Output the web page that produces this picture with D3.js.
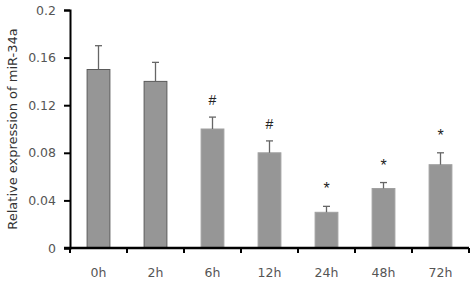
<!DOCTYPE html>
<html>
<head>
<meta charset="utf-8">
<script src="https://cdn.jsdelivr.net/npm/d3@7"></script>
<style>
  body { margin: 0; background: #fff; }
  text { font-family: "DejaVu Sans", sans-serif; }
</style>
</head>
<body>
<div id="chart"></div>
<script>
// data
let hours = ['0h', '2h', '6h', '12h', '24h', '48h', '72h'];
let means = [0.15, 0.14, 0.10, 0.08, 0.03, 0.05, 0.07];
let errs = [0.02, 0.016, 0.01, 0.01, 0.005, 0.005, 0.01];
let marks = ['', '', '#', '#', '*', '*', '*'];
let yTicks = [0, 0.04, 0.08, 0.12, 0.16, 0.2];

let margin = {top: 10, right: 5, bottom: 34, left: 70};
let width = 474 - margin.left - margin.right;
let height = 282 - margin.top - margin.bottom;

let svg = d3.select('#chart')
  .append('svg')
    .attr('width', 474)
    .attr('height', 282)
  .append('g')
    .attr('transform', 'translate(' + margin.left + ',' + margin.top + ')');

let x = d3.scaleBand()
  .domain(hours)
  .range([0, 399])
  .paddingInner(0.6)
  .paddingOuter(0.3);

let y = d3.scaleLinear()
  .domain([0, 0.2])
  .range([height, 0]);

// bars
svg.selectAll('.bar')
  .data(hours)
  .enter()
  .append('rect')
    .attr('x', d => x(d))
    .attr('y', (d, i) => y(means[i]))
    .attr('width', x.bandwidth())
    .attr('height', (d, i) => height - y(means[i]))
    .attr('fill', '#969696')
    .attr('stroke', (d, i) => i < 2 ? '#5a5a5a' : '#a0a0a0')
    .attr('stroke-width', 1);

// error bars (upper only)
let eb = svg.selectAll('.err')
  .data(hours)
  .enter()
  .append('g')
    .attr('stroke', '#666')
    .attr('stroke-width', 1.3);

eb.append('line')
  .attr('x1', d => x(d) + x.bandwidth() / 2)
  .attr('x2', d => x(d) + x.bandwidth() / 2)
  .attr('y1', (d, i) => y(means[i]))
  .attr('y2', (d, i) => y(means[i] + errs[i]));

eb.append('line')
  .attr('x1', d => x(d) + x.bandwidth() / 2 - 3.5)
  .attr('x2', d => x(d) + x.bandwidth() / 2 + 3.5)
  .attr('y1', (d, i) => y(means[i] + errs[i]))
  .attr('y2', (d, i) => y(means[i] + errs[i]));

// significance marks
svg.selectAll('.mark')
  .data(hours)
  .enter()
  .append('text')
    .attr('x', d => x(d) + x.bandwidth() / 2)
    .attr('y', (d, i) => y(means[i] + errs[i]) - (marks[i] == '#' ? 12 : 12))
    .attr('text-anchor', 'middle')
    .style('font-family', '"Liberation Sans", Arial, sans-serif')
    .style('font-size', (d, i) => marks[i] == '#' ? '14px' : '16px')
    .attr('fill', '#222')
    .text((d, i) => marks[i]);

// y axis
let yAxis = svg.append('g')
  .call(d3.axisLeft(y).tickValues(yTicks).tickSize(6).tickPadding(8)
    .tickFormat(d => d3.format('')(+d.toFixed(2))));

yAxis.select('.domain').attr('stroke', '#000').attr('stroke-width', 2);
yAxis.selectAll('.tick line').attr('stroke', '#000').attr('stroke-width', 2);
yAxis.selectAll('.tick text')
  .attr('fill', '#555')
  .style('font-size', '12.5px')
  .style('font-family', '"DejaVu Sans", sans-serif');

// x axis: ticks sit between categories
let xAxis = svg.append('g')
  .attr('transform', 'translate(0,' + height + ')');

xAxis.append('line')
  .attr('x1', -6).attr('x2', 399)
  .attr('stroke', '#000').attr('stroke-width', 2.5);

xAxis.selectAll('.xt')
  .data(d3.range(0, hours.length + 1))
  .enter()
  .append('line')
    .attr('x1', i => i * x.step())
    .attr('x2', i => i * x.step())
    .attr('y1', 0)
    .attr('y2', 5)
    .attr('stroke', '#000')
    .attr('stroke-width', 2);

xAxis.selectAll('.xl')
  .data(hours)
  .enter()
  .append('text')
    .attr('x', d => x(d) + x.bandwidth() / 2)
    .attr('y', 29)
    .attr('text-anchor', 'middle')
    .attr('fill', '#555')
    .style('font-size', '12.5px')
    .text(d => d);

// y axis label
svg.append('text')
  .attr('transform', 'rotate(-90)')
  .attr('x', -height / 2)
  .attr('y', -margin.left + 17)
  .attr('text-anchor', 'middle')
  .attr('fill', '#333')
  .style('font-size', '13px')
  .text('Relative expression of miR-34a');
</script>
</body>
</html>
